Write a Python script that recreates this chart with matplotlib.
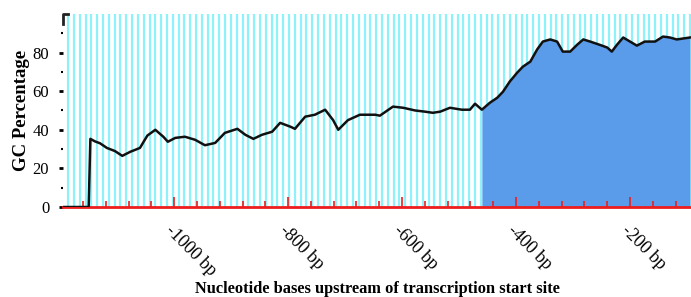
import numpy as np
import matplotlib.pyplot as plt

# GC content along the promoter (position in bp relative to TSS, % GC)
positions = [-1195, -1150, -1147, -1139, -1130, -1118, -1104, -1091, -1077, -1060,
             -1047, -1033, -1019, -1011, -998, -981, -963, -946, -928, -911,
             -889, -875, -861, -846, -828, -814, -796, -788, -770, -753,
             -735, -721, -712, -695, -674, -647, -639, -616, -598, -577,
             -560, -546, -533, -516, -495, -481, -472, -460, -446, -433,
             -423, -411, -398, -388, -375, -363, -353, -340, -328, -318,
             -305, -293, -282, -270, -253, -240, -232, -223, -212, -200,
             -188, -174, -156, -142, -130, -118, -95]
gc_values = [0, 0, 35.3, 34.0, 33.0, 30.6, 29.0, 26.5, 28.6, 30.6,
             37.0, 40.0, 36.4, 33.8, 35.8, 36.4, 34.8, 32.0, 33.2, 38.4,
             40.5, 37.4, 35.3, 37.4, 39.0, 43.6, 41.6, 40.5, 46.8, 47.8,
             50.4, 45.0, 40.0, 45.0, 47.8, 47.8, 47.3, 52.0, 51.4, 50.0,
             49.4, 48.8, 49.4, 51.4, 50.4, 50.4, 53.5, 50.4, 54.0, 56.6,
             59.7, 65.0, 69.6, 72.7, 75.3, 81.6, 85.7, 86.8, 85.7, 80.5,
             80.5, 84.0, 86.8, 85.7, 84.0, 82.6, 80.5, 84.0, 87.8, 85.7,
             83.6, 85.7, 85.7, 88.3, 87.8, 86.8, 87.8]
fill_start = -460
major_ticks = [-1000, -800, -600, -400, -200]
major_labels = ["-1000 bp", "-800 bp", "-600 bp", "-400 bp", "-200 bp"]

plt.rcParams['font.family'] = 'Liberation Serif'

fig = plt.figure(figsize=(6.91, 2.97), dpi=100)
ax = fig.add_axes([0.0912, 0.303, 0.9088, 0.65])

x = np.array(positions)
y = np.array(gc_values)

# background stripes
for s in np.arange(-1186, -90, 10.2):
    ax.axvline(s, color='#8ef2fa', lw=1.6, zorder=0)

mask = x >= fill_start
ax.fill_between(x[mask], y[mask], 0, color='#5a9bea', lw=0, zorder=1)
ax.plot(x, y, color='#111111', lw=1.8, zorder=3)

ax.set_xlim(-1195, -93)
ax.set_ylim(0, 100)

for side in ['top', 'right', 'left']:
    ax.spines[side].set_visible(False)
ax.spines['bottom'].set_color('#ee1c1c')
ax.spines['bottom'].set_linewidth(2)
ax.spines['bottom'].set_zorder(2)

ax.set_xticks(major_ticks)
ax.set_xticklabels(major_labels, rotation=-45, ha='left', va='top',
                   rotation_mode='anchor', fontsize=13)
ax.set_xticks(np.arange(-1160, -90, 40), minor=True)
ax.tick_params(axis='x', which='major', direction='in', length=7, width=1.2,
               color='#ee1c1c', pad=11)
ax.tick_params(axis='x', which='minor', direction='in', length=4, width=1.2,
               color='#ee1c1c')

ax.set_yticks([0, 20, 40, 60, 80])
ax.set_yticks([10, 30, 50, 70, 90], minor=True)
ax.tick_params(axis='y', which='major', length=3, width=2, pad=7, labelsize=12)
ax.tick_params(axis='y', which='minor', length=1.5, width=1.5)

# corner mark at the top of the y axis
ax.plot([0, 0, 0.008], [0.95, 1.0, 1.0], transform=ax.transAxes,
        color='#222222', lw=2, clip_on=False)

ax.set_ylabel("GC Percentage", fontsize=13.5, fontweight='bold', labelpad=2)
fig.text(0.546, 0.012, "Nucleotide bases upstream of transcription start site",
         ha='center', fontsize=11.8, fontweight='bold')

fig.savefig('out.png', dpi=100)
